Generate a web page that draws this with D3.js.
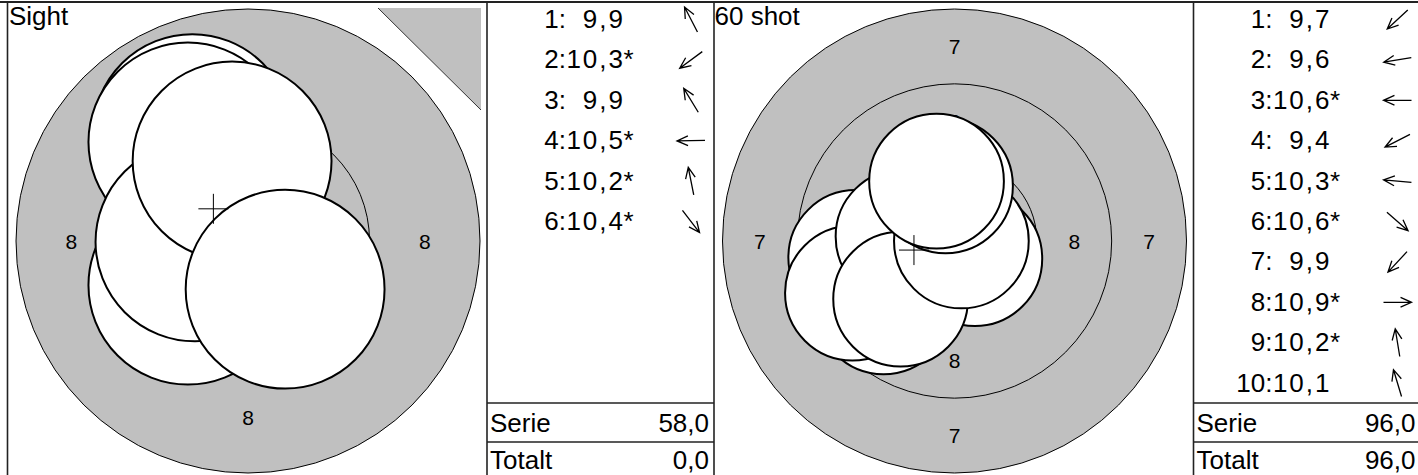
<!DOCTYPE html>
<html>
<head>
<meta charset="utf-8">
<script src="https://cdn.jsdelivr.net/npm/d3@7/dist/d3.min.js"></script>
<style>
  html, body { margin: 0; padding: 0; background: #fff; }
  svg { display: block; }
  text { font-family: "Liberation Sans", Arial, sans-serif; fill: #000; }
</style>
</head>
<body>
<svg id="chart" width="1418" height="475"></svg>
<script>
// ---------- DATA ----------
const titles = ["Sight", "60 shot"];

// shot positions in mm relative to target centre (x right, y up)
const sightShotX = [-1.26, -1.36, -1.36, -1.20, -0.36, 0.84];
const sightShotY = [2.43, -1.00, 2.24, -0.02, 1.81, -1.09];
const sightScores = [9.9, 10.3, 9.9, 10.5, 10.2, 10.4];
const sightInner = [false, true, false, true, true, true];

const matchShotX = [-2.37, -3.30, -0.95, -3.41, -1.72, 0.68, -1.80, 0.23, -0.30, -0.60];
const matchShotY = [-2.20, -0.55, 0.00, -1.74, 0.15, -0.59, -1.94, 0.00, 1.84, 2.00];
const matchScores = [9.7, 9.6, 10.6, 9.4, 10.3, 10.6, 9.9, 10.9, 10.2, 10.1];
const matchInner = [false, false, true, false, true, true, false, true, true, false];

const sightRings = [8, 9];      // ring boundaries drawn
const matchRings = [7, 8, 9];
const sightLabels = [8];        // ring numbers printed
const matchLabels = [7, 8];
const sightViewRing = 8;        // outermost visible ring
const matchViewRing = 7;

const rowLabels = ["Serie", "Totalt"];
const totals = [0.0, 96.0];

// air-rifle geometry (mm)
const tenRadius = 0.25, ringStep = 2.5, pelletRadius = 2.25;
const ringRadius = v => tenRadius + (10 - v) * ringStep;

// ---------- LAYOUT ----------
const svg = d3.select("#chart");
const panelX = [7.5, 714];
const boxW = 479.5, tableW = 227;
const topY = 2, H = 475;
const viewPx = 232;
const FS = 26;
const fmt = v => d3.format(".1f")(v).replace(".", ",");

const panels = [
  {title: titles[0], xs: sightShotX, ys: sightShotY, scores: sightScores, inner: sightInner,
   rings: sightRings, labels: sightLabels, view: sightViewRing, total: totals[0], triangle: true},
  {title: titles[1], xs: matchShotX, ys: matchShotY, scores: matchScores, inner: matchInner,
   rings: matchRings, labels: matchLabels, view: matchViewRing, total: totals[1], triangle: false}
];

panels.forEach((p, pi) => {
  const x0 = panelX[pi];
  const cx = x0 + 240.5, cy = 241;
  const R = ringRadius(p.view);
  const sx = d3.scaleLinear().domain([-R, R]).range([cx - viewPx, cx + viewPx]);
  const sy = d3.scaleLinear().domain([-R, R]).range([cy + viewPx, cy - viewPx]);
  const sr = d3.scaleLinear().domain([0, R]).range([0, viewPx]);
  const g = svg.append("g");

  // grey target disc
  g.append("circle").attr("cx", sx(0)).attr("cy", sy(0)).attr("r", sr(R))
    .attr("fill", "#c0c0c0").attr("stroke", "#000").attr("stroke-width", 1);
  g.selectAll("circle.ring").data(p.rings.filter(v => v !== p.view)).join("circle")
    .attr("class", "ring")
    .attr("cx", sx(0)).attr("cy", sy(0)).attr("r", v => sr(ringRadius(v)))
    .attr("fill", "none").attr("stroke", "#000").attr("stroke-width", 1);

  // ring numbers
  const labelData = [];
  p.labels.forEach(v => {
    const rm = (ringRadius(v) + ringRadius(v + 1)) / 2;
    [[-1, 0], [1, 0], [0, 1], [0, -1]].forEach(([a, b]) => labelData.push({v, x: a * rm, y: b * rm}));
  });
  g.selectAll("text.rl").data(labelData).join("text").attr("class", "rl")
    .attr("x", d => sx(d.x)).attr("y", d => sy(d.y) + 7.5)
    .attr("text-anchor", "middle").attr("font-size", 21).text(d => d.v);

  // shots
  const shots = p.xs.map((x, i) => ({x, y: p.ys[i], s: p.scores[i], inner: p.inner[i], n: i + 1}));
  g.selectAll("circle.shot").data(shots).join("circle").attr("class", "shot")
    .attr("cx", d => sx(d.x)).attr("cy", d => sy(d.y)).attr("r", sr(pelletRadius))
    .attr("fill", "#fff").attr("stroke", "#000").attr("stroke-width", 2);

  // mean point of impact
  const mx = d3.mean(shots, d => d.x), my = d3.mean(shots, d => d.y);
  g.append("path")
    .attr("d", `M${sx(mx) - 15},${sy(my)}H${sx(mx) + 15}M${sx(mx)},${sy(my) - 15}V${sy(my) + 15}`)
    .attr("stroke", "#000").attr("stroke-width", 1).attr("fill", "none");

  // direction triangle
  if (p.triangle) {
    const tx = x0 + boxW - 6, ty = topY + 6, ts = 103;
    g.append("path").attr("d", `M${tx - ts},${ty}L${tx},${ty}L${tx},${ty + ts - 1}Z`)
      .attr("fill", "#c0c0c0").attr("stroke", "none");
    g.append("line").attr("x1", tx - ts).attr("y1", ty).attr("x2", tx).attr("y2", ty + ts - 1)
      .attr("stroke", "#333").attr("stroke-width", 1);
  }

  // title
  svg.append("text").attr("x", x0 + (pi === 0 ? 1.5 : 0.5)).attr("y", 25)
    .attr("font-size", FS).text(p.title);

  // table
  const tx0 = x0 + boxW;
  const t = svg.append("g");
  const rowY = i => 28 + i * 40.4;
  t.selectAll("text.num").data(shots).join("text").attr("class", "num")
    .attr("x", tx0 + 79).attr("y", (d, i) => rowY(i)).attr("text-anchor", "end")
    .attr("font-size", FS).text(d => d.n + ":");
  t.selectAll("text.sc").data(shots).join("text").attr("class", "sc")
    .attr("x", tx0 + 138).attr("y", (d, i) => rowY(i)).attr("text-anchor", "end")
    .attr("letter-spacing", 2)
    .attr("font-size", FS).text(d => fmt(d.s));
  t.selectAll("text.star").data(shots.filter(d => d.inner)).join("text").attr("class", "star")
    .attr("x", tx0 + 136.5).attr("y", d => rowY(d.n - 1))
    .attr("font-size", FS).text("*");

  // direction arrows
  const L = 14, hl = 12, ha = 0.42;
  t.selectAll("path.arr").data(shots).join("path").attr("class", "arr")
    .attr("d", (d, i) => {
      const a = Math.atan2(-d.y, d.x); // screen angle
      const acx = tx0 + 204, acy = rowY(i) - 8.5;
      const ex = acx + L * Math.cos(a), ey = acy + L * Math.sin(a);
      const bx = acx - L * Math.cos(a), by = acy - L * Math.sin(a);
      const h1x = ex - hl * Math.cos(a - ha), h1y = ey - hl * Math.sin(a - ha);
      const h2x = ex - hl * Math.cos(a + ha), h2y = ey - hl * Math.sin(a + ha);
      return `M${bx},${by}L${ex},${ey}M${h1x},${h1y}L${ex},${ey}L${h2x},${h2y}`;
    })
    .attr("fill", "none").attr("stroke", "#000").attr("stroke-width", 1.3);

  // summary rows
  const serie = d3.sum(shots, d => Math.floor(d.s));
  const sumVals = [serie, p.total];
  const lineY = [403, 442];
  const textOff = [29, 26.5];
  lineY.forEach((ly, i) => {
    t.append("line").attr("x1", tx0).attr("x2", tx0 + tableW).attr("y1", ly).attr("y2", ly)
      .attr("stroke", "#222").attr("stroke-width", 1.6);
    t.append("text").attr("x", tx0 + 3).attr("y", ly + textOff[i]).attr("font-size", FS).text(rowLabels[i]);
    t.append("text").attr("x", tx0 + 222).attr("y", ly + textOff[i]).attr("text-anchor", "end")
      .attr("font-size", FS).text(fmt(sumVals[i]));
  });

  // frame lines
  [x0, tx0].forEach(vx => {
    svg.append("line").attr("x1", vx).attr("x2", vx).attr("y1", topY).attr("y2", H)
      .attr("stroke", "#222").attr("stroke-width", 1.6);
  });
});
svg.append("line").attr("x1", 0).attr("x2", 1418).attr("y1", topY).attr("y2", topY)
  .attr("stroke", "#222").attr("stroke-width", 2);
</script>
</body>
</html>
